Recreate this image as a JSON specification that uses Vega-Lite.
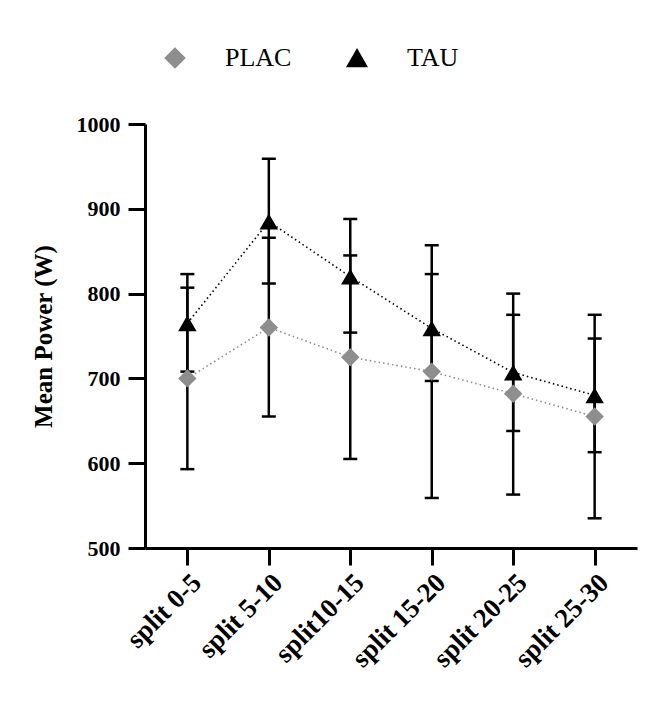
{
  "$schema": "https://vega.github.io/schema/vega-lite/v6.json",
  "width": 492,
  "height": 424,
  "autosize": {"type": "none"},
  "padding": {"left": 145, "top": 124, "right": 20, "bottom": 156},
  "background": "white",
  "config": {
    "view": {"stroke": null},
    "font": "Liberation Serif"
  },
  "data": {"values": [
    {"split": "split 0-5", "group": "PLAC", "mean": 700, "lo": 593, "hi": 807},
    {"split": "split 5-10", "group": "PLAC", "mean": 760, "lo": 655, "hi": 866},
    {"split": "split10-15", "group": "PLAC", "mean": 725, "lo": 605, "hi": 845},
    {"split": "split 15-20", "group": "PLAC", "mean": 708, "lo": 559, "hi": 857},
    {"split": "split 20-25", "group": "PLAC", "mean": 682, "lo": 563, "hi": 800},
    {"split": "split 25-30", "group": "PLAC", "mean": 655, "lo": 535, "hi": 775},
    {"split": "split 0-5", "group": "TAU", "mean": 765, "lo": 708, "hi": 823},
    {"split": "split 5-10", "group": "TAU", "mean": 885, "lo": 812, "hi": 959},
    {"split": "split10-15", "group": "TAU", "mean": 820, "lo": 754, "hi": 888},
    {"split": "split 15-20", "group": "TAU", "mean": 759, "lo": 697, "hi": 823},
    {"split": "split 20-25", "group": "TAU", "mean": 707, "lo": 638, "hi": 775},
    {"split": "split 25-30", "group": "TAU", "mean": 680, "lo": 613, "hi": 747}
  ]},
  "encoding": {
    "x": {
      "field": "split", "type": "nominal",
      "sort": ["split 0-5", "split 5-10", "split10-15", "split 15-20", "split 20-25", "split 25-30"],
      "scale": {"type": "point", "padding": 0.52},
      "axis": {
        "title": null, "labelAngle": -45, "labelFont": "Liberation Serif", "labelFontWeight": "bold",
        "labelFontSize": 27, "labelColor": "black", "domainColor": "black", "domainWidth": 3,
        "tickColor": "black", "tickWidth": 3, "tickSize": 17, "labelPadding": 4, "grid": false
      }
    },
    "color": {"field": "group", "type": "nominal", "scale": {"domain": ["PLAC", "TAU"], "range": ["#8e8e8e", "#000000"]},
      "legend": {"orient": "none", "legendX": 17, "legendY": -79, "direction": "horizontal", "title": null,
        "labelFont": "Liberation Serif", "labelFontSize": 26, "labelColor": "black", "labelOffset": 37,
        "symbolSize": 380, "columnPadding": 52}}
  },
  "layer": [
    {
      "mark": {"type": "line", "strokeDash": [1.5, 3], "strokeWidth": 1.6},
      "encoding": {
        "y": {"field": "mean", "type": "quantitative"}
      }
    },
    {
      "mark": {"type": "rule", "color": "black", "strokeWidth": 2.5},
      "encoding": {
        "y": {"field": "lo", "type": "quantitative"},
        "y2": {"field": "hi"},
        "detail": {"field": "group"},
        "color": {"value": "black"}
      }
    },
    {
      "mark": {"type": "tick", "color": "black", "thickness": 2.5, "size": 14, "opacity": 1},
      "encoding": {"y": {"field": "lo", "type": "quantitative"}, "color": {"value": "black"}}
    },
    {
      "mark": {"type": "tick", "color": "black", "thickness": 2.5, "size": 14, "opacity": 1},
      "encoding": {"y": {"field": "hi", "type": "quantitative"}, "color": {"value": "black"}}
    },
    {
      "mark": {"type": "point", "filled": true, "opacity": 1, "size": 340},
      "encoding": {
        "y": {
          "field": "mean", "type": "quantitative",
          "scale": {"domain": [500, 1000], "nice": false, "zero": false},
          "axis": {
            "title": "Mean Power (W)", "values": [500, 600, 700, 800, 900, 1000], "format": "d",
            "titleFont": "Liberation Serif", "titleFontSize": 25, "titleFontWeight": "bold", "titleColor": "black",
            "titlePadding": 20,
            "labelFont": "Liberation Serif", "labelFontWeight": "bold", "labelFontSize": 22, "labelColor": "black",
            "labelPadding": 8, "domainColor": "black", "domainWidth": 3,
            "tickColor": "black", "tickWidth": 3, "tickSize": 17, "grid": false
          }
        },
        "shape": {"field": "group", "type": "nominal", "scale": {"domain": ["PLAC", "TAU"], "range": ["diamond", "triangle-up"]},
          "legend": {"orient": "none", "legendX": 17, "legendY": -79, "direction": "horizontal", "title": null,
            "labelFont": "Liberation Serif", "labelFontSize": 26, "labelColor": "black", "labelOffset": 37,
            "symbolSize": 380, "columnPadding": 52}}
      }
    }
  ]
}
